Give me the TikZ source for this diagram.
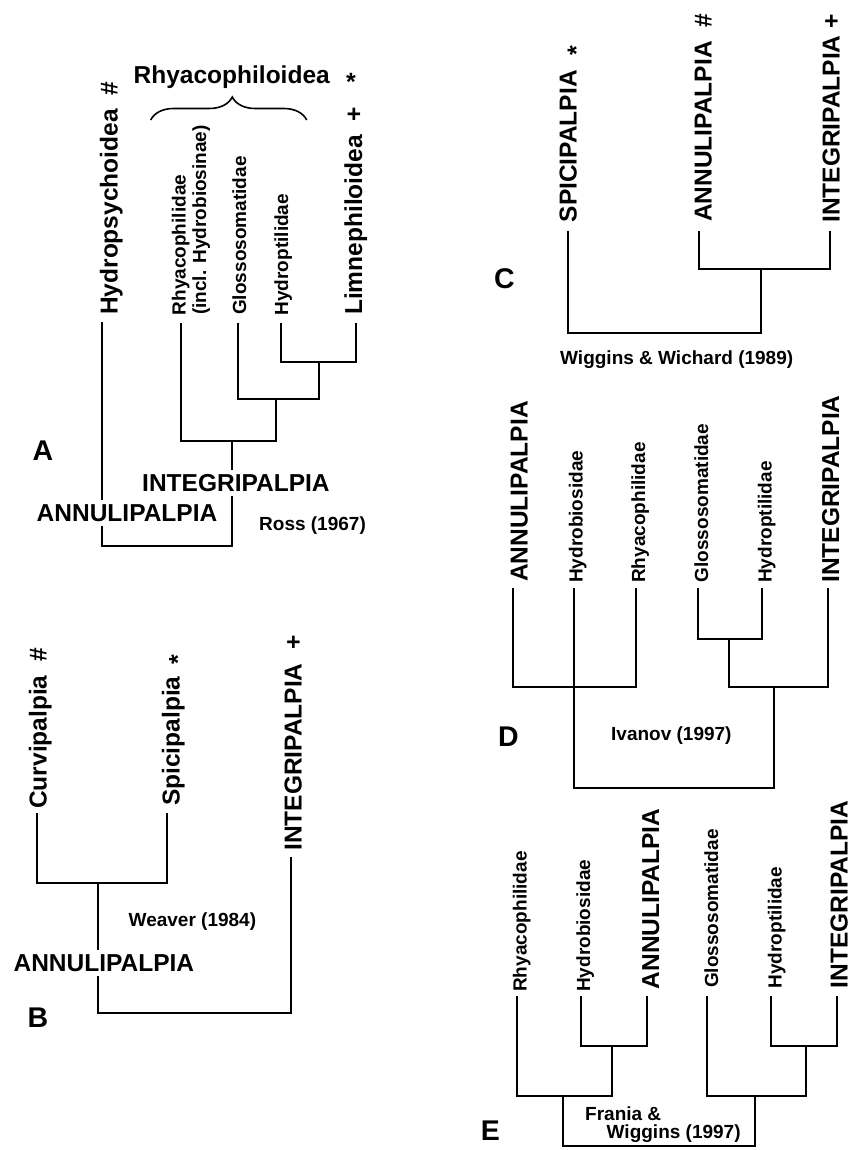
\documentclass[tikz,border=0pt]{standalone}
\usepackage{fontspec}
\setmainfont{Liberation Sans}
\usetikzlibrary{decorations.pathreplacing}
\tikzset{
  tree/.style={line width=2.2pt, line join=miter, line cap=rect},
  big/.style={font=\fontsize{24.5}{29}\selectfont\bfseries},
  small/.style={font=\fontsize{19}{23}\selectfont\bfseries},
  note/.style={font=\fontsize{19}{23}\selectfont\bfseries, anchor=base west, inner sep=0pt},
  panel/.style={font=\fontsize{28.5}{33}\selectfont\bfseries, anchor=base west, inner sep=0pt},
  leaf/.style={rotate=90, anchor=base west, inner sep=0pt},
  clade/.style={big, anchor=base, fill=white, inner sep=4.5pt},
  starmark/.style={font=\fontsize{25}{29}\selectfont\bfseries, anchor=base, inner sep=0pt}
}
\begin{document}
\begin{tikzpicture}[x=1pt,y=-1pt]
\useasboundingbox (0,0) rectangle (853,1150);
\fill[white] (0,0) rectangle (853,1150);

% ---------------- Panel A ----------------
\coordinate (Ahp) at (101.7,323);
\coordinate (Arh) at (181,324);
\coordinate (Agl) at (238,324);
\coordinate (Ahy) at (281.3,324);
\coordinate (Ali) at (356,324);
\coordinate (Aj1) at (319,362);
\coordinate (Aj2) at (276,399);
\coordinate (Aj3) at (232.3,441);
\coordinate (Aroot) at (232.3,546);
\draw[tree] (Ahy) |- (Aj1) -| (Ali);
\draw[tree] (Agl) |- (Aj2) -| (Aj1);
\draw[tree] (Arh) |- (Aj3) -| (Aj2);
\draw[tree] (Ahp) |- (Aroot) -- (Aj3);

\node[leaf,big] (AhpL) at (117.5,315) {Hydropsychoidea\ \ \#};
\node[leaf,small] (ArhL) at (185.7,315.5) {Rhyacophilidae};
\node[leaf,small] (ArhL2) at (206,315) {(incl. Hydrobiosinae)};
\node[leaf,small] (AglL) at (246,315) {Glossosomatidae};
\node[leaf,small] (AhyL) at (288,315.5) {Hydroptilidae};
\node[leaf,big] (AliL) at (362,315) {Limnephiloidea\ \ +};
\node[big, anchor=base west, inner sep=0pt] (Arhy) at (133.5,83.3) {Rhyacophiloidea};
\node[starmark] (Astar) at (351,90.8) {*};
\coordinate (brL) at (150.7,120);
\coordinate (brR) at (306.7,120);
\draw[line width=1.6pt, decorate, decoration={brace, amplitude=23pt, aspect=0.523}] (brL) -- (brR);
\node[clade] (Aint) at (235.9,491.7) {INTEGRIPALPIA};
\node[clade] (Aann) at (127,521) {ANNULIPALPIA};
\node[panel] (Apanel) at (32.3,460) {A};
\node[note] (Aref) at (259,530.7) {Ross (1967)};

% ---------------- Panel B ----------------
\coordinate (Bcu) at (36.7,814.3);
\coordinate (Bsp) at (166.7,814.3);
\coordinate (Bin) at (291,858.3);
\coordinate (Bj1) at (98.3,883);
\coordinate (Broot) at (98.3,1013);
\draw[tree] (Bcu) |- (Bj1) -| (Bsp);
\draw[tree] (Bj1) -- (Broot) -| (Bin);

\node[leaf,big] (BcuL) at (46.7,809) {Curvipalpia\ \ \#};
\node[leaf,big] (BspL) at (179.5,806) {Spicipalpia};
\node[starmark, rotate=90] (Bstar) at (186.4,660) {*};
\node[leaf,big] (BinL) at (301.5,851) {INTEGRIPALPIA\ \ +};
\node[clade] (Bann) at (103.9,971.7) {ANNULIPALPIA};
\node[note] (Bref) at (128.5,926.7) {Weaver (1984)};
\node[panel] (Bpanel) at (27.3,1027.7) {B};

% ---------------- Panel C ----------------
\coordinate (Csp) at (567.7,232.3);
\coordinate (Can) at (699.3,232.3);
\coordinate (Cin) at (830,232.3);
\coordinate (Cj1) at (761,269);
\coordinate (Croot) at (761,333);
\draw[tree] (Can) |- (Cj1) -| (Cin);
\draw[tree] (Csp) |- (Croot) -- (Cj1);

\node[leaf,big] (CspL) at (576.5,222.5) {SPICIPALPIA};
\node[starmark, rotate=90] (Cstar) at (584.9,50.8) {*};
\node[leaf,big] (CanL) at (711.5,222) {ANNULIPALPIA\ \ \#};
\node[leaf,big] (CinL) at (839.5,223) {INTEGRIPALPIA\ +};
\node[panel] (Cpanel) at (493.8,288.3) {C};
\node[note] (Cref) at (560,364.3) {Wiggins \& Wichard (1989)};

% ---------------- Panel D ----------------
\coordinate (Dan) at (513.3,589.3);
\coordinate (Dhb) at (574.3,589.3);
\coordinate (Drh) at (636,589.3);
\coordinate (Dgl) at (697.7,589.3);
\coordinate (Dhy) at (761.7,589.3);
\coordinate (Din) at (828.3,589.3);
\coordinate (Dj1) at (574.3,687);
\coordinate (Dj2) at (729.3,639);
\coordinate (Dj3) at (774.3,687);
\coordinate (Droot) at (574.3,788);
\draw[tree] (Dan) |- (Dj1) -| (Drh);
\draw[tree] (Dhb) -- (Droot) -| (Dj3);
\draw[tree] (Dgl) |- (Dj2) -| (Dhy);
\draw[tree] (Dj2) |- (Dj3) -| (Din);

\node[leaf,big] (DanL) at (527.5,582) {ANNULIPALPIA};
\node[leaf,small] (DhbL) at (582.7,583) {Hydrobiosidae};
\node[leaf,small] (DrhL) at (645,583) {Rhyacophilidae};
\node[leaf,small] (DglL) at (708,582.5) {Glossosomatidae};
\node[leaf,small] (DhyL) at (771.7,583) {Hydroptilidae};
\node[leaf,big] (DinL) at (839,583) {INTEGRIPALPIA};
\node[note] (Dref) at (611,740) {Ivanov (1997)};
\node[panel] (Dpanel) at (498,746) {D};

% ---------------- Panel E ----------------
\coordinate (Erh) at (517.3,997.5);
\coordinate (Ehb) at (580.7,997.5);
\coordinate (Ean) at (647.3,997.5);
\coordinate (Egl) at (707.3,997.5);
\coordinate (Ehy) at (770.7,997.5);
\coordinate (Ein) at (837.3,997.5);
\coordinate (Ej1) at (611.7,1046);
\coordinate (Ej2) at (563.3,1096);
\coordinate (Ej3) at (805.7,1046);
\coordinate (Ej4) at (755,1096);
\coordinate (Ebot) at (563.3,1146);
\draw[tree] (Ehb) |- (Ej1) -| (Ean);
\draw[tree] (Erh) |- (Ej2) -| (Ej1);
\draw[tree] (Ehy) |- (Ej3) -| (Ein);
\draw[tree] (Egl) |- (Ej4) -| (Ej3);
\draw[tree] (Ej2) -- (Ebot) -| (Ej4);

\node[leaf,small] (ErhL) at (526.7,992) {Rhyacophilidae};
\node[leaf,small] (EhbL) at (590,992) {Hydrobiosidae};
\node[leaf,big] (EanL) at (659,989.5) {ANNULIPALPIA};
\node[leaf,small] (EglL) at (718,988) {Glossosomatidae};
\node[leaf,small] (EhyL) at (781.7,988.5) {Hydroptilidae};
\node[leaf,big] (EinL) at (847.5,988.5) {INTEGRIPALPIA};
\node[note] (Eref1) at (585,1120) {Frania \&};
\node[note] (Eref2) at (606.5,1138.3) {Wiggins (1997)};
\node[panel] (Epanel) at (480.7,1140) {E};
\end{tikzpicture}
\end{document}
